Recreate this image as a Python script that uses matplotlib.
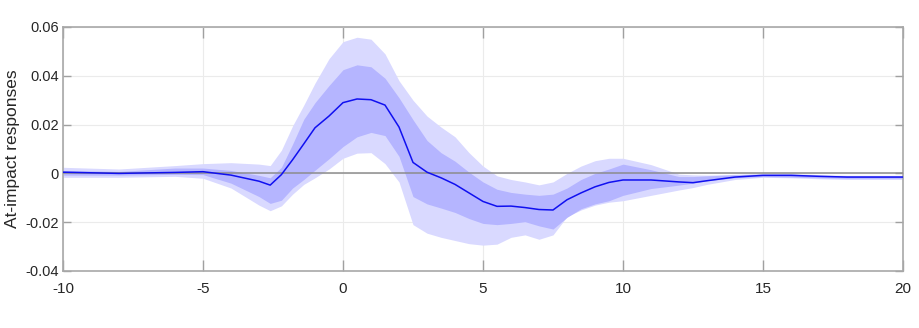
import matplotlib
matplotlib.use("Agg")
import matplotlib.pyplot as plt

# horizon (x) and impulse-response bands
horizon = [-10, -8, -6, -5, -4, -3, -2.6, -2.2, -1.8, -1.4, -1.0, -0.5, 0, 0.5,
           1.0, 1.5, 2.0, 2.5, 3.0, 3.5, 4.0, 4.5, 5.0, 5.5, 6.0, 6.5, 7.0, 7.5,
           8.0, 8.5, 9.0, 9.5, 10, 11, 12, 12.5, 13, 14, 15, 16, 17, 18, 20]

median = [0.0005, 0.0000, 0.0004, 0.0007, -0.0007, -0.0032, -0.0048, -0.0005,
          0.0056, 0.0121, 0.0187, 0.0235, 0.0290, 0.0305, 0.0302, 0.0280,
          0.0190, 0.0045, 0.0005, -0.0018, -0.0045, -0.0080, -0.0115, -0.0135,
          -0.0134, -0.0140, -0.0148, -0.0150, -0.0108, -0.0080, -0.0055,
          -0.0037, -0.0027, -0.0027, -0.0035, -0.0038, -0.0030, -0.0015,
          -0.0008, -0.0008, -0.0012, -0.0015, -0.0015]

outer_hi = [0.0025, 0.0018, 0.0032, 0.0040, 0.0044, 0.0038, 0.0032, 0.0095,
            0.0195, 0.0280, 0.0370, 0.0470, 0.0540, 0.0558, 0.0550, 0.0490,
            0.0380, 0.0300, 0.0235, 0.0190, 0.0150, 0.0085, 0.0030, -0.0010,
            -0.0025, -0.0035, -0.0047, -0.0035, 0.0000, 0.0030, 0.0052,
            0.0062, 0.0062, 0.0036, -0.0003, -0.0006, -0.0007, -0.0004,
            0.0000, 0.0000, -0.0005, -0.0008, -0.0008]

inner_hi = [0.0012, 0.0008, 0.0022, 0.0022, 0.0012, -0.0008, -0.0018, 0.0025,
            0.0120, 0.0222, 0.0290, 0.0360, 0.0425, 0.0445, 0.0437, 0.0390,
            0.0310, 0.0220, 0.0135, 0.0085, 0.0050, 0.0005, -0.0035, -0.0065,
            -0.0078, -0.0085, -0.0090, -0.0085, -0.0060, -0.0025, 0.0000,
            0.0018, 0.0038, 0.0015, -0.0013, -0.0013, -0.0010, -0.0006,
            -0.0003, -0.0003, -0.0008, -0.0010, -0.0010]

inner_lo = [-0.0007, -0.0007, -0.0004, -0.0005, -0.0040, -0.0095, -0.0123,
            -0.0110, -0.0060, -0.0025, 0.0013, 0.0060, 0.0110, 0.0150, 0.0168,
            0.0155, 0.0070, -0.0095, -0.0125, -0.0142, -0.0160, -0.0185,
            -0.0205, -0.0210, -0.0205, -0.0198, -0.0215, -0.0228, -0.0180,
            -0.0145, -0.0125, -0.0112, -0.0090, -0.0062, -0.0048, -0.0040,
            -0.0030, -0.0018, -0.0013, -0.0015, -0.0018, -0.0020, -0.0020]

outer_lo = [-0.0016, -0.0016, -0.0012, -0.0020, -0.0060, -0.0130, -0.0153,
            -0.0133, -0.0085, -0.0045, -0.0018, 0.0018, 0.0062, 0.0083, 0.0085,
            0.0040, -0.0035, -0.0210, -0.0245, -0.0262, -0.0275, -0.0288,
            -0.0294, -0.0290, -0.0262, -0.0252, -0.0270, -0.0252, -0.0177,
            -0.0150, -0.0130, -0.0118, -0.0112, -0.0090, -0.0068, -0.0058,
            -0.0045, -0.0025, -0.0016, -0.0018, -0.0022, -0.0025, -0.0025]

xticks = [-10, -5, 0, 5, 10, 15, 20]
xtick_labels = ["-10", "-5", "0", "5", "10", "15", "20"]
yticks = [-0.04, -0.02, 0, 0.02, 0.04, 0.06]
ytick_labels = ["-0.04", "-0.02", "0", "0.02", "0.04", "0.06"]

plt.rcParams['font.family'] = ['Liberation Sans', 'DejaVu Sans']
plt.rcParams['axes.unicode_minus'] = False

fig = plt.figure(figsize=(9.2, 3.28), dpi=100)
ax = fig.add_axes([63 / 920, 1 - 271 / 328, 840 / 920, 244 / 328])

ax.fill_between(horizon, outer_lo, outer_hi, color="#D9D9FF", linewidth=0, zorder=1)
ax.fill_between(horizon, inner_lo, inner_hi, color="#B5B5FF", linewidth=0, zorder=2)
ax.axhline(0, color="#8C8C8C", linewidth=1.1, zorder=3)
ax.plot(horizon, median, color="#1010F0", linewidth=1.1, zorder=4)

ax.set_xlim(-10, 20)
ax.set_ylim(-0.04, 0.06)
ax.set_xticks(xticks)
ax.set_xticklabels(xtick_labels)
ax.set_yticks(yticks)
ax.set_yticklabels(ytick_labels)
ax.grid(True, color="#EBEBEB", linewidth=0.8, zorder=0)
ax.set_axisbelow(True)

for s in ax.spines.values():
    s.set_color("#A8A8A8")
    s.set_linewidth(1.2)

ax.tick_params(axis="x", direction="in", length=8, width=1, color="#A0A0A0",
               top=True, pad=8, labelsize=11, labelcolor="#262626")
ax.tick_params(axis="y", direction="in", length=6, width=1, color="#A0A0A0",
               right=True, pad=3, labelsize=10.5, labelcolor="#262626")

ax.set_ylabel("At-impact responses", fontsize=12.5, color="#262626")
ax.yaxis.set_label_coords(-0.051, 0.5)

fig.savefig("out.png", dpi=100)
